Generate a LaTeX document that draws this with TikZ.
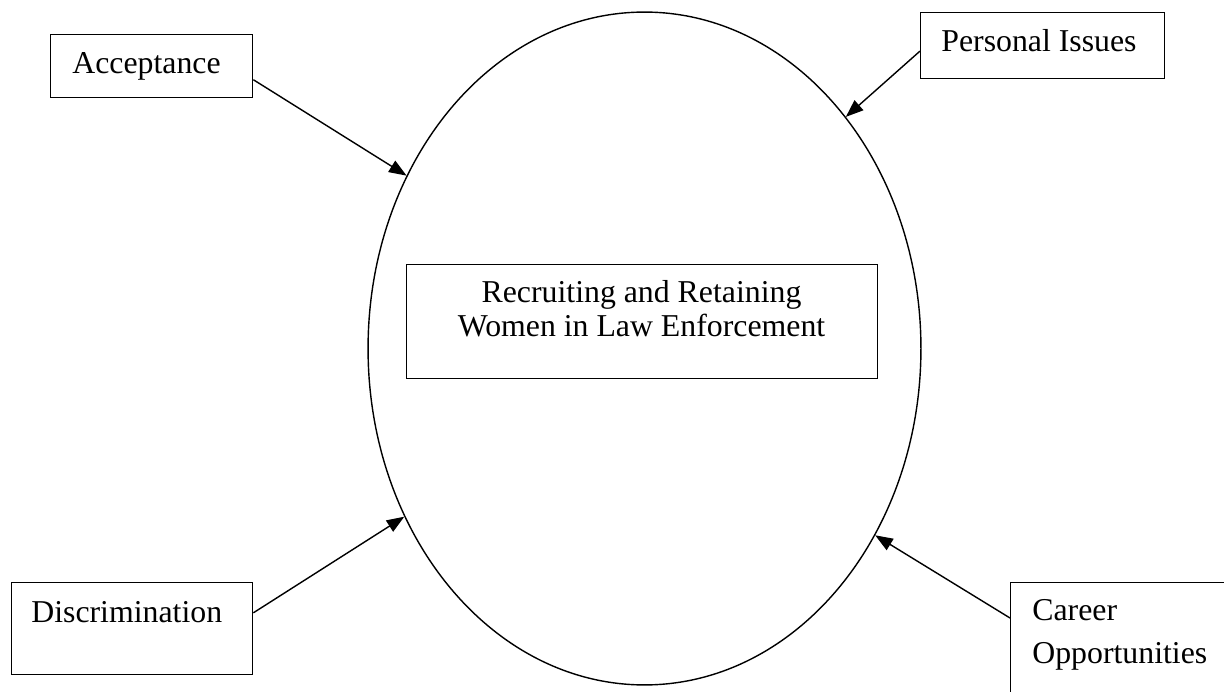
\documentclass[tikz,border=0pt]{standalone}
\usepackage{fontspec}
\setmainfont{Liberation Serif}
\usetikzlibrary{shapes.geometric,arrows.meta,calc}
\begin{document}
\begin{tikzpicture}[x=0.02cm,y=-0.02cm,
        box/.style={draw,line width=0.8pt,rectangle,anchor=north west,inner sep=0pt},
        lbl/.style={inner sep=0pt,anchor=base west,font=\fontsize{18.1}{20}\selectfont},
        arr/.style={line width=0.8pt,-{Triangle[length=10pt,width=7.5pt]}}]
    \useasboundingbox (0,0) rectangle (1224,692);
    \node (ring) [draw,line width=0.8pt,ellipse,inner sep=0pt,minimum width=11.06cm,minimum height=13.46cm] at (644.5,348.5) {};
    \node (main) [box,minimum width=9.42cm,minimum height=2.28cm] at (406,264) {};
    \node (acc) [box,minimum width=4.04cm,minimum height=1.26cm] at (50,34) {};
    \node (pers) [box,minimum width=4.88cm,minimum height=1.32cm] at (920,12) {};
    \node (disc) [box,minimum width=4.82cm,minimum height=1.84cm] at (11,582) {};
    \node (car) [box,minimum width=4.5cm,minimum height=2.5cm] at (1010,582) {};
    \node (mainA) [lbl,anchor=base] at (641.5,303) {Recruiting and Retaining};
    \node (mainB) [lbl,anchor=base] at (641.5,337) {Women in Law Enforcement};
    \node (accL) [lbl] at (72,74) {Acceptance};
    \node (persL) [lbl] at (941,52) {Personal Issues};
    \node (discL) [lbl] at (31,622) {Discrimination};
    \node (carA) [lbl] at (1032,620) {Career};
    \node (carB) [lbl] at (1032,663) {Opportunities};
    \draw[arr] ($(acc.north east)!0.71!(acc.south east)$) -- (ring.144.4);
    \draw[arr] ($(pers.north west)!0.58!(pers.south west)$) -- (ring.49.1);
    \draw[arr] ($(disc.north east)!0.33!(disc.south east)$) -- (ring.215.7);
    \draw[arr] ($(car.north west)+(0,36)$) -- (ring.321.3);
\end{tikzpicture}
\end{document}
